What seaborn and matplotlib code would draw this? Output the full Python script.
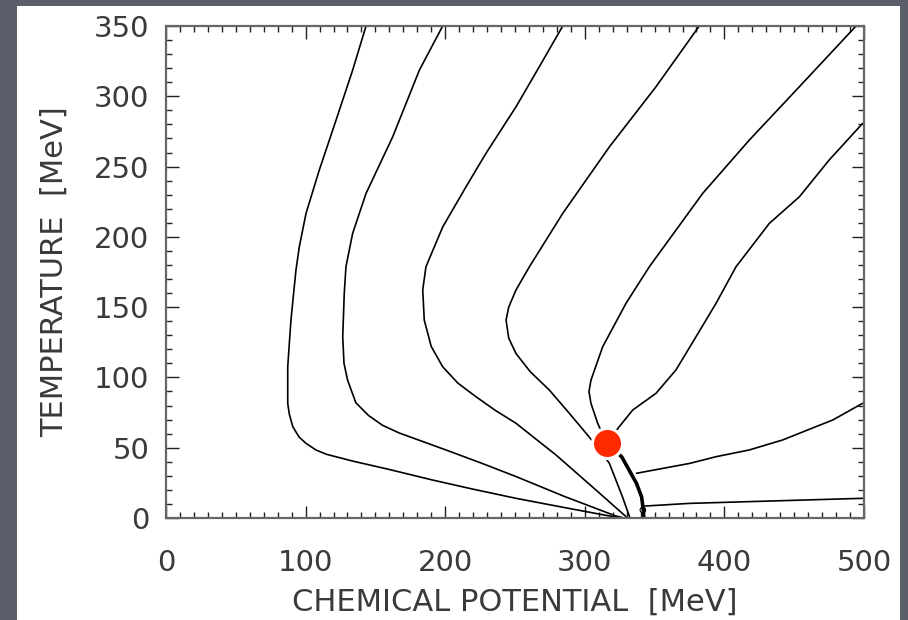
import matplotlib
matplotlib.use("Agg")
import matplotlib.pyplot as plt
import seaborn as sns
from matplotlib.patches import Rectangle
from matplotlib.ticker import MultipleLocator

# ---- data (mu in MeV, T in MeV) ----
c1_mu = [143.3, 133.7, 121.8, 109.8, 100.3, 95.5, 93.1, 89.5, 87.2, 87.2, 88.3, 90.8, 95.3, 100.3, 107.4, 115, 133.7, 160, 191, 220, 250.7, 285, 320, 328]
c1_T = [350, 318.6, 283, 247.5, 216.7, 193, 176.4, 140.8, 107.6, 81.6, 74, 65, 57.6, 53.1, 48.4, 45.3, 40.5, 34.5, 27, 20.5, 14, 7.5, 1, 0]

c2_mu = [198.2, 181.5, 162.4, 143.3, 133.7, 128.9, 127.7, 126.6, 127.5, 130.1, 136, 145, 155, 167, 185, 203, 226, 250.7, 285, 322, 328]
c2_T = [350, 318.6, 271.2, 230.9, 202.5, 178.7, 160, 129, 110, 98, 82, 73, 66, 60.5, 54, 47.5, 39, 29.5, 15.5, 1.5, 0]

c3_mu = [284.2, 267.4, 250.7, 229.2, 214.9, 198.2, 186.2, 183.9, 185, 190, 198.2, 209, 222, 236, 250.7, 279.4, 308, 329.5]
c3_T = [350, 321, 292.5, 259.4, 235.6, 207, 178.7, 162.2, 140.8, 122, 107.6, 96, 86.3, 76.5, 67.4, 44.8, 19.9, 1]

c4_mu = [382, 351, 317.6, 284.2, 260.3, 250.7, 245.5, 243.6, 245.5, 250.7, 261, 274.6, 288.9, 302, 311, 317.6, 327, 332]
c4_T = [350, 306.8, 264, 216.7, 178.7, 162.2, 150, 140.8, 128, 117, 104, 91, 74.5, 59, 48, 38.9, 15, 1]

c5_mu = [494.3, 453.7, 417.8, 384.5, 346.2, 329.5, 312.8, 304.4, 303, 304.4, 309.2, 315.7]
c5_T = [350, 306.8, 268.8, 231, 178.7, 152.7, 121.8, 98, 90, 81.6, 67.4, 53.3]

c6_mu = [499, 475, 453.7, 432.2, 408.3, 394, 379.7, 365.3, 351, 334.3, 324.7, 315.7]
c6_T = [280.7, 254.6, 228.5, 209.6, 178.7, 152.7, 129, 105.3, 88.7, 76.8, 65, 53.3]

pb_mu = [315.7, 326.4, 337, 340.7, 341.9, 342.3]
pb_T = [53.3, 43.6, 24.7, 15, 5.7, 0]

la_mu = [337, 375.4, 394, 417.8, 441.7, 465.6, 477.6, 499]
la_T = [31.8, 38.9, 43.6, 48.4, 55.5, 65, 69.7, 81.6]

lb_mu = [343, 375, 430, 499]
lb_T = [8.5, 10.4, 12, 14]

cep_mu = [315.7]
cep_T = [53.3]

xticks = [0, 100, 200, 300, 400, 500]
yticks = [0, 50, 100, 150, 200, 250, 300, 350]

# ---- figure ----
sns.set_theme(style="white")
plt.rcParams['font.family'] = ['DejaVu Sans']

fig = plt.figure(figsize=(9.08, 6.2), dpi=100)
fig.patch.set_facecolor('#5a5f6b')
fig.patches.append(Rectangle((17 / 908, 0), (900 - 17) / 908, (620 - 6) / 620,
                             transform=fig.transFigure, facecolor='white',
                             edgecolor='none', zorder=-10))

ax = fig.add_axes([166 / 908, 102 / 620, 698 / 908, 492 / 620])
ax.set_zorder(5)
ax.set_facecolor('white')

thin = dict(color='black', linewidth=1.2, sort=False, estimator=None, ax=ax)
for mu, T in [(c1_mu, c1_T), (c2_mu, c2_T), (c3_mu, c3_T), (c4_mu, c4_T),
              (c5_mu, c5_T), (c6_mu, c6_T), (la_mu, la_T), (lb_mu, lb_T)]:
    sns.lineplot(x=mu, y=T, **thin)
sns.lineplot(x=pb_mu, y=pb_T, color='black', linewidth=2.6, sort=False,
             estimator=None, ax=ax)

sns.scatterplot(x=[341.6], y=[5.7], s=16, facecolor='none', edgecolor='black',
                linewidth=0.8, ax=ax, zorder=4)
sns.scatterplot(x=cep_mu, y=cep_T, s=470, color='#ff2a00', edgecolor='white',
                linewidth=2.2, ax=ax, zorder=5)

ax.set_xlim(0, 500)
ax.set_ylim(0, 350)
ax.set_xticks(xticks)
ax.set_yticks(yticks)
ax.xaxis.set_minor_locator(MultipleLocator(10))
ax.yaxis.set_minor_locator(MultipleLocator(10))
ax.tick_params(which='both', direction='in', top=True, right=True,
               bottom=True, left=True, color='#222222', width=1.0)
ax.tick_params(which='major', length=9, labelsize=21, labelcolor='#3a3a3a')
ax.tick_params(axis='x', which='major', pad=22)
ax.tick_params(axis='y', which='major', pad=12)
ax.tick_params(which='minor', length=4.5)
for s in ax.spines.values():
    s.set_color('#666666')
    s.set_linewidth(1.6)
    s.set_visible(True)

ax.set_xlabel('CHEMICAL POTENTIAL  [MeV]', fontsize=22, color='#3a3a3a',
              labelpad=8)
ax.set_ylabel('TEMPERATURE  [MeV]', fontsize=22, color='#3a3a3a',
              labelpad=18)

fig.savefig('out.png', dpi=100, facecolor=fig.get_facecolor())
